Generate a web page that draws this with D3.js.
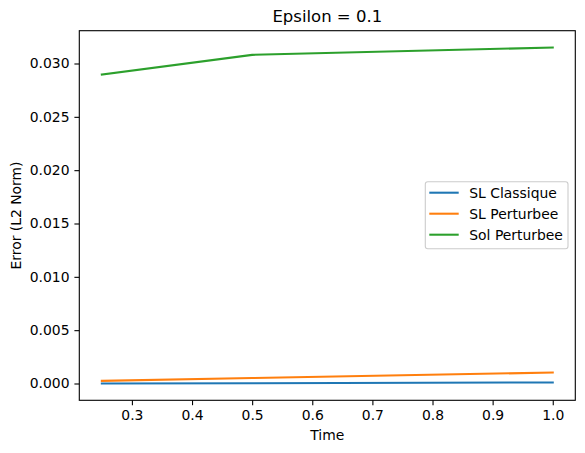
<!DOCTYPE html>
<html><head><meta charset="utf-8">
<script src="https://cdn.jsdelivr.net/npm/d3@7"></script>
<style>
html,body{margin:0;padding:0;background:#fff;}
svg{display:block;font-family:"DejaVu Sans",sans-serif;}
</style></head>
<body>
<svg id="chart" width="585" height="453"></svg>
<script>
const times = [0.25, 0.5, 1.0];
const slClassique = [0.00000, 0.00003, 0.00010];
const slPerturbee = [0.00025, 0.00051, 0.00103];
const solPerturbee = [0.02897, 0.03081, 0.03150];
const seriesNames = ["SL Classique", "SL Perturbee", "Sol Perturbee"];
const seriesColors = ["#1f77b4", "#ff7f0e", "#2ca02c"];
const xTicks = [0.3, 0.4, 0.5, 0.6, 0.7, 0.8, 0.9, 1.0];
const yTicks = [0.000, 0.005, 0.010, 0.015, 0.020, 0.025, 0.030];
const titleText = "Epsilon = 0.1";
const xLabel = "Time";
const yLabel = "Error (L2 Norm)";

const seriesValues = [slClassique, slPerturbee, solPerturbee];
const svg = d3.select("#chart");
const L = 79.3, R = 575.3, T = 30.7, B = 400.3;

const xMin = d3.min(times), xMax = d3.max(times);
const xPad = (xMax - xMin) * 0.05;
const allY = seriesValues.flat();
const yMin = d3.min(allY), yMax = d3.max(allY);
const yPad = (yMax - yMin) * 0.05;

const x = d3.scaleLinear().domain([xMin - xPad, xMax + xPad]).range([L, R]);
const y = d3.scaleLinear().domain([yMin - yPad, yMax + yPad]).range([B, T]);

// lines
const line = d3.line().x(d => x(d[0])).y(d => y(d[1]));
seriesValues.forEach((vals, i) => {
  svg.append("path")
    .datum(times.map((t, j) => [t, vals[j]]))
    .attr("fill", "none")
    .attr("stroke", seriesColors[i])
    .attr("stroke-width", 2.08)
    .attr("stroke-linejoin", "round")
    .attr("stroke-linecap", "square")
    .attr("d", line);
});

// axes
const fs = 13.9;
const xAxis = d3.axisBottom(x).tickValues(xTicks).tickFormat(d3.format(".1f")).tickSizeInner(4.9).tickSizeOuter(0).tickPadding(4.9);
const yAxis = d3.axisLeft(y).tickValues(yTicks).tickFormat(d3.format(".3f")).tickSizeInner(4.9).tickSizeOuter(0).tickPadding(4.9);

const gx = svg.append("g").attr("transform", `translate(0,${B})`).call(xAxis);
const gy = svg.append("g").attr("transform", `translate(${L},0)`).call(yAxis);
[gx, gy].forEach(g => {
  g.select(".domain").remove();
  g.selectAll(".tick line").attr("stroke", "#000").attr("stroke-width", 1.1);
  g.selectAll(".tick text").attr("fill", "#000").style("font-size", fs + "px").style("font-family", "DejaVu Sans");
});

// frame
svg.append("rect").attr("x", L).attr("y", T).attr("width", R - L).attr("height", B - T)
  .attr("fill", "none").attr("stroke", "#000").attr("stroke-width", 1.1);

// title & labels
svg.append("text").attr("x", (L + R) / 2).attr("y", 22).attr("text-anchor", "middle")
  .style("font-size", "16.5px").attr("fill", "#000").text(titleText);
svg.append("text").attr("x", (L + R) / 2).attr("y", 440).attr("text-anchor", "middle")
  .style("font-size", fs + "px").attr("fill", "#000").text(xLabel);
svg.append("text").attr("transform", `translate(20.5,${(T + B) / 2}) rotate(-90)`).attr("text-anchor", "middle")
  .style("font-size", fs + "px").attr("fill", "#000").text(yLabel);

// legend
const lg = svg.append("g");
lg.append("rect").attr("x", 425.3).attr("y", 181.7).attr("width", 568 - 425.3).attr("height", 248.7 - 181.7)
  .attr("rx", 2.5).attr("fill", "#fff").attr("fill-opacity", 0.8).attr("stroke", "#ccc").attr("stroke-width", 1.1);
seriesNames.forEach((name, i) => {
  const cy = 192.7 + i * 21;
  lg.append("line").attr("x1", 429.3).attr("x2", 458.7).attr("y1", cy).attr("y2", cy)
    .attr("stroke", seriesColors[i]).attr("stroke-width", 2.08);
  lg.append("text").attr("x", 469.3).attr("y", cy + 5).style("font-size", fs + "px").attr("fill", "#000").text(name);
});
</script>
</body></html>
